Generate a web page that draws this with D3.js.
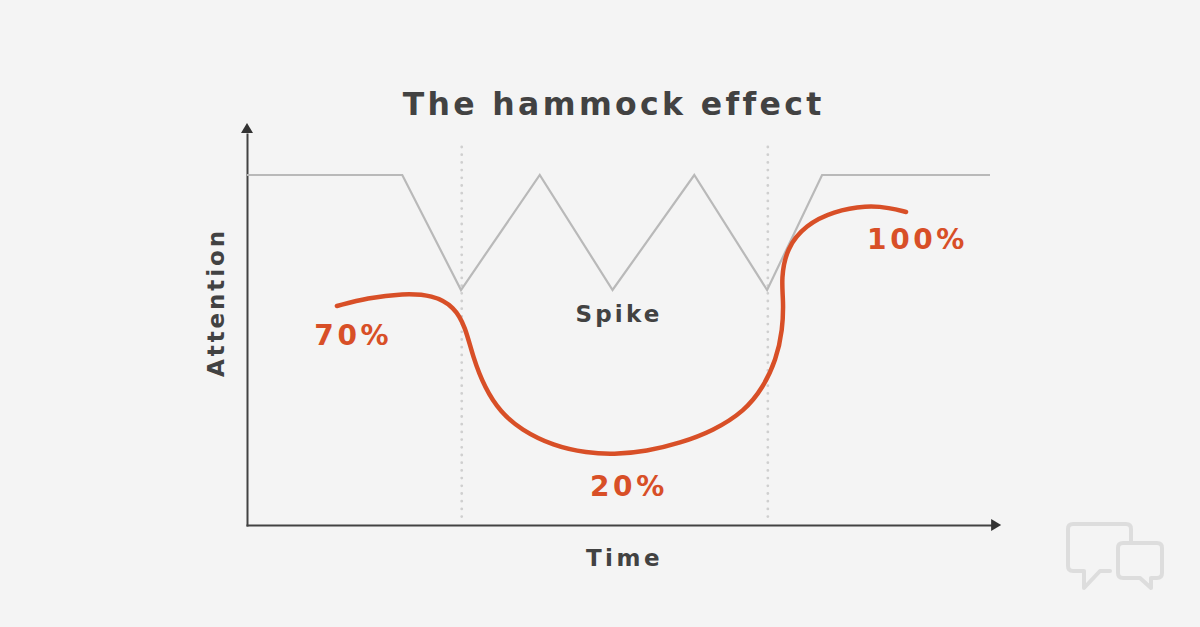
<!DOCTYPE html>
<html>
<head>
<meta charset="utf-8">
<script src="https://cdn.jsdelivr.net/npm/d3@7"></script>
<style>
  html, body { margin: 0; padding: 0; background: #f4f4f4; }
  svg { display: block; }
  text { font-family: "DejaVu Sans", sans-serif; font-weight: bold; }
</style>
</head>
<body>
<div id="canvas"></div>
<script>
// values, time and attention both on a 0-100 scale
const spikeTime = [0, 20.9, 28.8, 39.4, 49.2, 60.2, 70, 77.4, 100];
const spikeAttention = [87.5, 87.5, 58.75, 87.5, 58.75, 87.5, 58.75, 87.5, 87.5];

const curveTime = [12.1, 12.1, 16.2, 21.0, 25.0, 27.9, 29.4, 30.4, 32.0, 34.1, 36.9, 41.2, 45.8, 49.3, 53.8, 58.3, 62.7, 67.0, 69.5, 71.2, 72.1, 72.2, 71.9, 72.6, 75.2, 78.9, 83.4, 86.5, 88.7, 88.7];
const curveAttention = [54.75, 54.75, 56.75, 57.9, 57.5, 54.6, 49.5, 42, 34.25, 28.2, 23.8, 19.8, 18, 17.6, 18.4, 20.5, 23.5, 28.5, 34.5, 41.25, 48.75, 56.25, 61.5, 69.2, 75, 78.4, 79.9, 79.3, 78.25, 78.25];

const dividerTimes = [28.9, 70.1];

const percentLabels = ["70%", "20%", "100%"];
const percentTime = [14.3, 51.4, 90.25];
const percentAttention = [45, 7.25, 69];

const width = 1200;
const height = 627;
const margin = {top: 125, left: 247, bottom: 102, right: 210};
const grey = "#b9b9b9";
const dark = "#424242";
const red = "#d84f27";

const svg = d3.select("#canvas").append("svg")
    .attr("width", width)
    .attr("height", height);

svg.append("rect")
    .attr("width", width)
    .attr("height", height)
    .attr("fill", "#f4f4f4");

const x = d3.scaleLinear().domain([0, 100]).range([margin.left, width - margin.right]);
const y = d3.scaleLinear().domain([0, 100]).range([height - margin.bottom, margin.top]);

// axes, no ticks, stretched a bit so they run into the arrow heads
const xAxisScale = x.copy().domain([0, 101]).range([x(0) - 1, x(101)]);
const yAxisScale = y.copy().domain([0, 98]).range([y(0) + 1, y(98)]);

svg.append("g")
    .attr("transform", `translate(0, ${y(0)})`)
    .call(d3.axisBottom(xAxisScale).tickValues([]).tickSizeOuter(0))
    .select(".domain").attr("stroke", dark).attr("stroke-width", 2);

svg.append("g")
    .attr("transform", `translate(${x(0)}, 0)`)
    .call(d3.axisLeft(yAxisScale).tickValues([]).tickSizeOuter(0))
    .select(".domain").attr("stroke", dark).attr("stroke-width", 2);

svg.append("path")
    .attr("d", "M0,0L-10,-6L-10,6Z")
    .attr("transform", `translate(${x(101.5)}, ${y(0)})`)
    .attr("fill", "#333333");

svg.append("path")
    .attr("d", "M0,0L-6,10L6,10Z")
    .attr("transform", `translate(${x(0)}, ${y(100.5)})`)
    .attr("fill", "#333333");

// dotted dividers
svg.selectAll(".divider").data(dividerTimes).enter().append("line")
    .attr("class", "divider")
    .attr("x1", d => x(d))
    .attr("x2", d => x(d))
    .attr("y1", y(94.5))
    .attr("y2", y(1))
    .attr("stroke", "#cfcfcf")
    .attr("stroke-width", 2.8)
    .attr("stroke-linecap", "round")
    .attr("stroke-dasharray", "0 7.7");

// grey spike line
const spikeLine = d3.line()
    .x(d => x(d))
    .y((d, i) => y(spikeAttention[i]));

svg.append("path")
    .attr("d", spikeLine(spikeTime))
    .attr("fill", "none")
    .attr("stroke", grey)
    .attr("stroke-width", 2.2);

// red attention curve, basis keeps it smooth over the hand read points
const attentionLine = d3.line()
    .x(d => x(d))
    .y((d, i) => y(curveAttention[i]))
    .curve(d3.curveBasis);

svg.append("path")
    .attr("d", attentionLine(curveTime))
    .attr("fill", "none")
    .attr("stroke", red)
    .attr("stroke-width", 4.5)
    .attr("stroke-linecap", "round");

// labels
svg.selectAll(".percent").data(percentLabels).enter().append("text")
    .attr("class", "percent")
    .attr("x", (d, i) => x(percentTime[i]))
    .attr("y", (d, i) => y(percentAttention[i]))
    .attr("text-anchor", "middle")
    .attr("fill", red)
    .style("font-size", "28px")
    .style("letter-spacing", "3.6px")
    .text(d => d);

svg.append("text")
    .attr("x", 613.7)
    .attr("y", 114.5)
    .attr("text-anchor", "middle")
    .attr("fill", dark)
    .style("font-size", "31.5px")
    .style("letter-spacing", "3.35px")
    .text("The hammock effect");

svg.append("text")
    .attr("x", 619)
    .attr("y", 322)
    .attr("text-anchor", "middle")
    .attr("fill", dark)
    .style("font-size", "23px")
    .style("letter-spacing", "3.2px")
    .text("Spike");

svg.append("text")
    .attr("x", 624.5)
    .attr("y", 566)
    .attr("text-anchor", "middle")
    .attr("fill", dark)
    .style("font-size", "23px")
    .style("letter-spacing", "3.5px")
    .text("Time");

svg.append("text")
    .attr("transform", "translate(224, 302.5) rotate(-90)")
    .attr("text-anchor", "middle")
    .attr("fill", dark)
    .style("font-size", "23px")
    .style("letter-spacing", "2.9px")
    .text("Attention");

// speech bubble logo, bottom right
const logo = svg.append("g")
    .attr("fill", "none")
    .attr("stroke", "#dddddd")
    .attr("stroke-width", 4)
    .attr("stroke-linecap", "round")
    .attr("stroke-linejoin", "round");

logo.append("path")
    .attr("d", "M1131,541V529Q1131,524 1126,524H1073Q1068,524 1068,529V566Q1068,571 1073,571H1084V588L1100,571H1110");

logo.append("path")
    .attr("d", "M1123,543H1157Q1162,543 1162,548V573Q1162,578 1157,578H1151V588L1140,578H1123Q1118,578 1118,573V548Q1118,543 1123,543Z");
</script>
</body>
</html>
